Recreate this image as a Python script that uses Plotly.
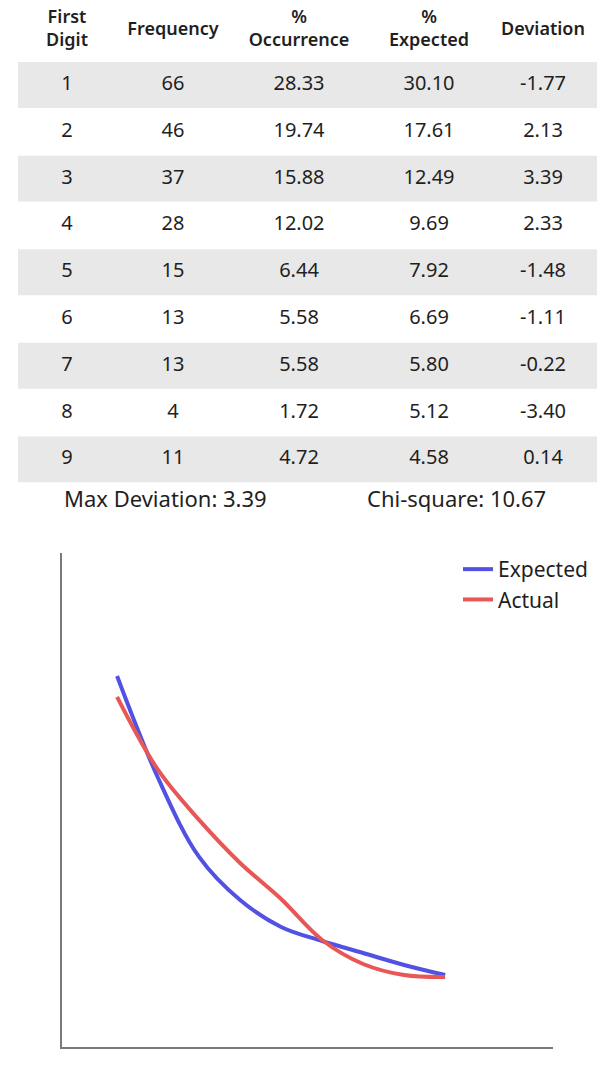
import plotly.graph_objects as go

# Benford first-digit table values
digits = [1, 2, 3, 4, 5, 6, 7, 8, 9]
frequency = [66, 46, 37, 28, 15, 13, 13, 4, 11]
pct_occurrence = [28.33, 19.74, 15.88, 12.02, 6.44, 5.58, 5.58, 1.72, 4.72]
pct_expected = [30.10, 17.61, 12.49, 9.69, 7.92, 6.69, 5.80, 5.12, 4.58]
deviation = [-1.77, 2.13, 3.39, 2.33, -1.48, -1.11, -0.22, -3.40, 0.14]
headers = ["First<br>Digit", "Frequency", "%<br>Occurrence", "%<br>Expected", "Deviation"]

max_deviation = 3.39
chi_square = 10.67

# curves as drawn in the chart
curve_expected = [30.16, 21.87, 15.45, 11.95, 9.76, 8.62, 7.64, 6.67, 5.85]
curve_actual = [28.46, 22.52, 18.46, 14.96, 12.03, 8.70, 6.75, 5.85, 5.69]

W, H = 615, 1080
FONT = "Noto Sans"
TXT = "#1f1f1f"
BLUE = "#5151e3"
RED = "#e85656"

# column centres of the table, in page pixels
col_pos = [67, 173, 299, 429, 543]
row_top = 85     # centre of first row
row_h = 46.8

fig = go.Figure()

# ---- table (drawn on a full-page helper axis pair) ----
columns = [
    [str(d) for d in digits],
    [str(f) for f in frequency],
    [f"{v:.2f}" for v in pct_occurrence],
    [f"{v:.2f}" for v in pct_expected],
    [f"{v:.2f}" for v in deviation],
]
for cx, col in zip(col_pos, columns):
    fig.add_trace(go.Scatter(
        x=[cx] * len(digits), y=digits, text=col, mode="text",
        textposition="middle center",
        textfont=dict(family=FONT, size=20, color=TXT),
        xaxis="x2", yaxis="y2", showlegend=False, hoverinfo="skip",
    ))

header_y = 1 + (30 - row_top) / row_h
fig.add_trace(go.Scatter(
    x=col_pos, y=[header_y] * len(headers), text=headers, mode="text",
    textposition="middle center",
    textfont=dict(family=FONT, size=18, color=TXT, weight=600),
    xaxis="x2", yaxis="y2", showlegend=False, hoverinfo="skip",
    cliponaxis=False,
))

# alternating row bands
shapes = []
for d in digits:
    if d % 2 == 1:
        shapes.append(dict(
            type="rect", xref="x2", yref="y2", x0=18, x1=597,
            y0=d - 0.49, y1=d + 0.49, fillcolor="#e8e8e8",
            line=dict(width=0), layer="below",
        ))

# stats line
stats_y = 1 + (501 - row_top) / row_h
fig.add_trace(go.Scatter(
    x=[64, 367], y=[stats_y, stats_y],
    text=[f"Max Deviation: {max_deviation:.2f}", f"Chi-square: {chi_square:.2f}"],
    mode="text", textposition="middle right",
    textfont=dict(family=FONT, size=22, color=TXT),
    xaxis="x2", yaxis="y2", showlegend=False, hoverinfo="skip",
))

# ---- line chart ----
fig.add_trace(go.Scatter(
    x=digits, y=curve_expected, name="Expected", mode="lines",
    line=dict(color=BLUE, width=4, shape="spline", smoothing=1.0),
))
fig.add_trace(go.Scatter(
    x=digits, y=curve_actual, name="Actual", mode="lines",
    line=dict(color=RED, width=4, shape="spline", smoothing=1.0),
))

top_val = 1 - row_top / row_h
bot_val = 1 + (H - row_top) / row_h

fig.update_layout(
    width=W, height=H,
    margin=dict(l=0, r=0, t=0, b=0),
    paper_bgcolor="white",
    plot_bgcolor="rgba(0,0,0,0)",
    shapes=shapes,
    xaxis=dict(
        domain=[61.7 / W, 553 / W], range=[-0.35, 11.63],
        showline=True, linecolor="#7a7a7a", linewidth=1.5,
        showgrid=False, zeroline=False, showticklabels=False, ticks="",
    ),
    yaxis=dict(
        domain=[(H - 1047) / H, (H - 553) / H], range=[0, 40.16],
        showline=True, linecolor="#7a7a7a", linewidth=1.5,
        showgrid=False, zeroline=False, showticklabels=False, ticks="",
    ),
    xaxis2=dict(
        domain=[0, 1], range=[0, W], anchor="y2", visible=False, fixedrange=True,
    ),
    yaxis2=dict(
        domain=[0, 1], range=[bot_val, top_val], anchor="x2", visible=False,
        fixedrange=True,
    ),
    legend=dict(
        x=458 / W, y=1 - 549 / H, xanchor="left", yanchor="top",
        font=dict(family=FONT, size=21, color=TXT),
        bgcolor="rgba(0,0,0,0)", itemwidth=30, tracegroupgap=0,
    ),
    showlegend=True,
)

# drop the default 8px body margin so the figure fills the window
fig.write_html(
    "out.html",
    config={"displayModeBar": False},
    post_script="document.body.style.margin = '0';",
)
